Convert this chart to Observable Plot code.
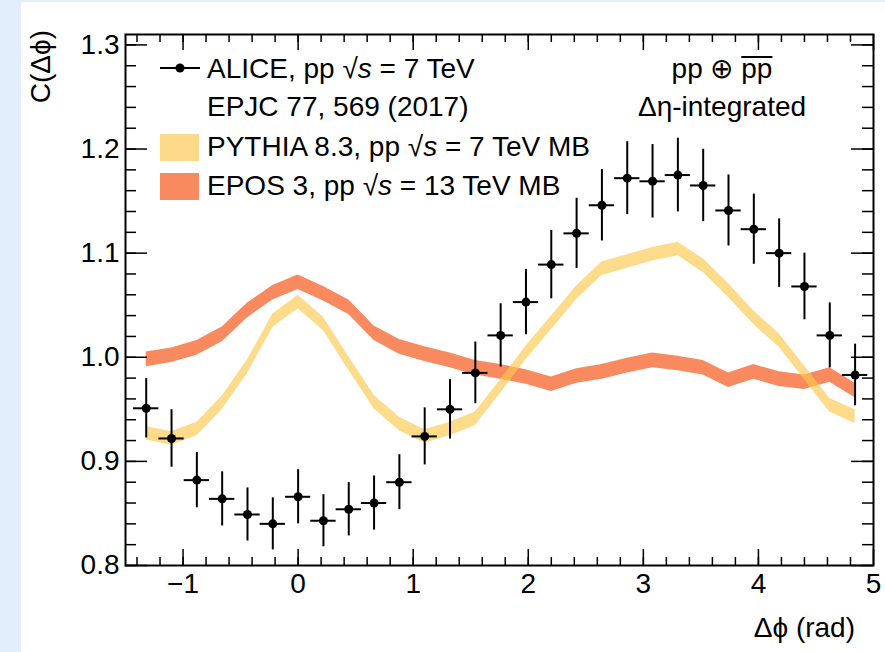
<!DOCTYPE html>
<html><head><meta charset="utf-8">
<script src="https://cdn.jsdelivr.net/npm/d3@7"></script>
<script src="https://cdn.jsdelivr.net/npm/@observablehq/plot@0.6"></script>
<style>
html,body{margin:0;padding:0;background:#e3eefc;width:885px;height:652px;overflow:hidden;font-family:"Liberation Sans",Arial,sans-serif;}
#panel{position:absolute;left:21px;top:2px;width:864px;height:650px;background:#fff;}
#chart{position:absolute;left:0;top:0;}
#overlay{position:absolute;left:0;top:0;}
</style></head><body>
<div id="panel"></div>
<div id="chart"></div>
<svg id="overlay" width="885" height="652"></svg>
<script>
// ---- data ----
const dphi = [-1.32,-1.10,-0.88,-0.66,-0.44,-0.22,0,0.22,0.44,0.66,0.88,1.10,1.32,1.54,1.76,1.98,2.20,2.42,2.64,2.86,3.08,3.30,3.52,3.74,3.96,4.18,4.40,4.62,4.84];
const aliceC = [0.951,0.922,0.882,0.864,0.849,0.840,0.866,0.843,0.854,0.860,0.880,0.924,0.950,0.985,1.021,1.053,1.089,1.119,1.146,1.172,1.169,1.175,1.165,1.141,1.123,1.100,1.068,1.021,0.983];
const aliceErr = [0.0285,0.0276,0.0266,0.026,0.0255,0.025,0.026,0.025,0.0256,0.026,0.0264,0.0274,0.0285,0.0296,0.0304,0.0314,0.0329,0.0337,0.0343,0.035,0.0353,0.0354,0.0348,0.0341,0.0337,0.0329,0.032,0.0312,0.0296];
const binHalfWidth = 0.11;
const pythiaC = [0.927,0.922,0.931,0.956,0.991,1.035,1.053,1.032,0.994,0.957,0.936,0.924,0.931,0.941,0.972,1.004,1.033,1.062,1.085,1.092,1.099,1.104,1.088,1.064,1.038,1.016,0.985,0.954,0.943];
const pythiaHalf = 0.0065;
const eposC = [0.998,1.002,1.009,1.022,1.045,1.062,1.072,1.061,1.048,1.023,1.010,1.003,0.997,0.990,0.986,0.981,0.974,0.982,0.986,0.992,0.997,0.994,0.990,0.978,0.986,0.979,0.976,0.983,0.968];
const eposHalf = 0.007;
const xTicks = [-1,0,1,2,3,4,5];
const xTickLabels = ["\u22121","0","1","2","3","4","5"];
const yTicks = [0.8,0.9,1.0,1.1,1.2,1.3];
const yTickLabels = ["0.8","0.9","1.0","1.1","1.2","1.3"];

const alice = dphi.map((x,i)=>({x, y: aliceC[i], e: aliceErr[i]}));
const pythia = dphi.map((x,i)=>({x, c: pythiaC[i]}));
const epos = dphi.map((x,i)=>({x, c: eposC[i]}));

const W=885, H=652, mL=125, mR=12, mT=34, mB=87;
const pw = W-mL-mR, ph = H-mT-mB;
const xMinor = d3.range(-1.4, 5.0, 0.2).map(v=>+v.toFixed(2));
const yMinor = d3.range(0.8, 1.311, 0.02).map(v=>+v.toFixed(2));
const font = "Liberation Sans, Arial, sans-serif";

const chart = Plot.plot({
  width: W, height: H, marginLeft: mL, marginRight: mR, marginTop: mT, marginBottom: mB,
  style: {background: "transparent", fontFamily: font, fontSize: "28px", color: "black"},
  x: {domain: [-1.5, 5]},
  y: {domain: [0.8, 1.31]},
  marks: [
    Plot.areaY(epos, {x: "x", y1: d=>d.c-eposHalf, y2: d=>d.c+eposHalf, fill: "#f98a5f"}),
    Plot.areaY(pythia, {x: "x", y1: d=>d.c-pythiaHalf, y2: d=>d.c+pythiaHalf, fill: "#fbc84c", fillOpacity: 0.65}),
    Plot.ruleX(alice, {x: "x", y1: d=>d.y-d.e, y2: d=>d.y+d.e, stroke: "black", strokeWidth: 2}),
    Plot.ruleY(alice, {y: "y", x1: d=>d.x-binHalfWidth, x2: d=>d.x+binHalfWidth, stroke: "black", strokeWidth: 2}),
    Plot.dot(alice, {x: "x", y: "y", r: 4.5, fill: "black"}),
    // inward ticks, ROOT style
    Plot.tickY(yTicks, {y: d=>d, insetRight: pw-22, stroke: "black", strokeWidth: 1.5}),
    Plot.tickY(yMinor, {y: d=>d, insetRight: pw-11, stroke: "black", strokeWidth: 1.5}),
    Plot.tickY(yTicks, {y: d=>d, insetLeft: pw-22, stroke: "black", strokeWidth: 1.5}),
    Plot.tickY(yMinor, {y: d=>d, insetLeft: pw-11, stroke: "black", strokeWidth: 1.5}),
    Plot.tickX(xTicks, {x: d=>d, insetTop: ph-16, stroke: "black", strokeWidth: 1.5}),
    Plot.tickX(xMinor, {x: d=>d, insetTop: ph-8, stroke: "black", strokeWidth: 1.5}),
    Plot.tickX(xTicks, {x: d=>d, insetBottom: ph-16, stroke: "black", strokeWidth: 1.5}),
    Plot.tickX(xMinor, {x: d=>d, insetBottom: ph-8, stroke: "black", strokeWidth: 1.5}),
    Plot.frame({stroke: "black", strokeWidth: 2}),
    Plot.axisY({ticks: yTicks, tickSize: 0, tickPadding: 6, tickFormat: d=>yTickLabels[yTicks.indexOf(d)], label: null, fontSize: 28}),
    Plot.axisX({ticks: xTicks, tickSize: 0, tickPadding: 8, tickFormat: d=>xTickLabels[xTicks.indexOf(d)], label: null, fontSize: 28})
  ]
});
document.getElementById("chart").appendChild(chart);

// ---- legend and titles overlay ----
const ov = d3.select("#overlay").style("font-family", font).style("font-size","28px");
ov.append("line").attr("x1",160).attr("x2",200).attr("y1",68).attr("y2",68).attr("stroke","black").attr("stroke-width",2);
ov.append("circle").attr("cx",180).attr("cy",68).attr("r",4.5).attr("fill","black");
function sqrtText(x, y, pre, post){
  const el = ov.append("text").attr("x",x).attr("y",y);
  el.append("tspan").text(pre + "\u221A");
  el.append("tspan").attr("font-style","italic").text("s");
  el.append("tspan").text(post);
  return el;
}
sqrtText(207, 78, "ALICE, pp ", " = 7 TeV");
ov.append("text").attr("x",207).attr("y",116).text("EPJC 77, 569 (2017)");
ov.append("rect").attr("x",160).attr("y",134).attr("width",39).attr("height",27).attr("fill","#fdda8a");
sqrtText(207, 156, "PYTHIA 8.3, pp ", " = 7 TeV MB");
ov.append("rect").attr("x",160).attr("y",173).attr("width",39).attr("height",27).attr("fill","#f98a5f");
sqrtText(207, 195, "EPOS 3, pp ", " = 13 TeV MB");
const t1 = ov.append("text").attr("x",722).attr("y",78).attr("text-anchor","middle");
t1.append("tspan").text("pp \u2295 ");
const bar = t1.append("tspan").text("pp");
const bb = bar.node().getBBox();
ov.append("line").attr("x1",bb.x).attr("x2",bb.x+bb.width).attr("y1",57).attr("y2",57).attr("stroke","black").attr("stroke-width",2);
ov.append("text").attr("x",722).attr("y",116).attr("text-anchor","middle").text("\u0394\u03B7-integrated");
ov.append("text").attr("transform","translate(50,30) rotate(-90)").attr("text-anchor","end").text("C(\u0394\u03D5)");
ov.append("text").attr("x",855).attr("y",637).attr("text-anchor","end").text("\u0394\u03D5 (rad)");
</script></body></html>
